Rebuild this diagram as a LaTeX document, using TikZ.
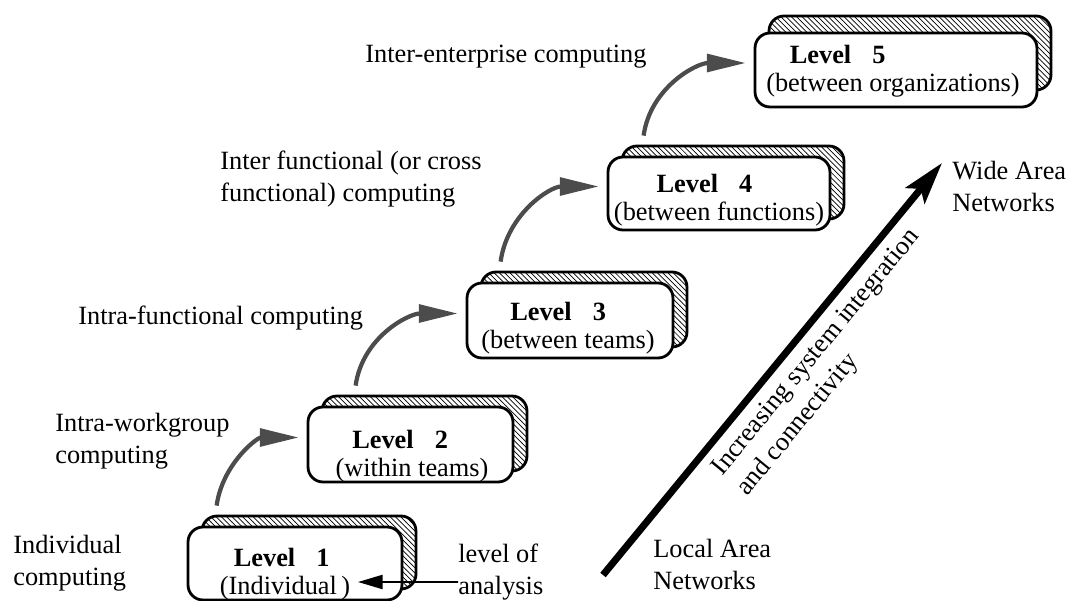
\documentclass[tikz,border=0pt]{standalone}
\usepackage{fontspec}
\setmainfont{Liberation Serif}
\usetikzlibrary{arrows.meta,shadows,patterns}

\tikzset{
    levelbox/.style={draw, line width=1.6pt, rounded corners=0.3cm, fill=white,
        general shadow={shadow xshift=0.28cm, shadow yshift=#1, draw,
            line width=1.6pt, pattern=north west lines, pattern color=black}},
    levelbox/.default=0.22cm,
    lvltxt/.style={align=center, font=\fontsize{15}{16}\selectfont},
    lbl/.style={align=left, anchor=west, inner sep=0pt},
    climb/.style={draw=black!70, line width=2.4pt,
        -{Triangle[length=22pt,width=10pt]}},
}
\newcommand{\lvl}[2]{\textbf{Level\hspace{.8em}#1}\hspace*{#2}}

\begin{document}
\begin{tikzpicture}[x=0.02cm, y=-0.02cm, font=\fontsize{15}{18.2}\selectfont]
    \useasboundingbox (0,0) rectangle (1072,601);

    % Levels
    \node[levelbox, minimum width=4.28cm, minimum height=1.46cm] (l1) at (295,563.5) {};
    \node[levelbox, minimum width=4.1cm, minimum height=1.5cm] (l2) at (410.5,444.5) {};
    \node[levelbox, minimum width=4.12cm, minimum height=1.5cm] (l3) at (570,320.5) {};
    \node[levelbox, minimum width=4.44cm, minimum height=1.46cm] (l4) at (719,193.5) {};
    \node[levelbox=0.34cm, minimum width=5.64cm, minimum height=1.48cm] (l5) at (896,70) {};

    \node[lvltxt] (t1) at (285,574) {\lvl{1}{.25em}\\(Individual\,)};
    \node[lvltxt] (t2) at (412,456) {\lvl{2}{.9em}\\(within teams)};
    \node[lvltxt] (t3) at (568,328) {\lvl{3}{.75em}\\(between teams)};
    \node[lvltxt] (t4) at (719,200) {\lvl{4}{1.1em}\\(between functions)};
    \node[lvltxt] (t5) at (893,71) {\lvl{5}{4.2em}\\(between organizations)};

    % Steps between levels
    \foreach \a/\b/\s in {l1/l2/0.6, l2/l3/0.98, l3/l4/0.7, l4/l5/0.74}
        \draw[climb] ([xshift=\s cm, yshift=0.4cm]\a.north west)
            to[out=82, in=180] ([xshift=-0.16cm, yshift=0.14cm]\b.west);

    % Kinds of computing
    \node[lbl] (indiv) at (13,563) {Individual\\computing};
    \node[lbl] (intrawg) at (55,441) {Intra-workgroup\\computing};
    \node[lbl] (intrafn) at (78,318) {Intra-functional computing};
    \node[lbl] (interfn) at (220,179) {Inter functional (or cross\\functional) computing};
    \node[lbl] (interent) at (365,57) {Inter-enterprise computing};

    % Level of analysis
    \node[lbl] (loa) at (458,572) {level of\\analysis};
    \coordinate (aim) at (358,582);
    \draw[line width=1.1pt, -{Triangle[length=14pt,width=8pt]}]
        ([yshift=-0.2cm]loa.west) -- (aim);

    % Networks
    \coordinate (lan) at (603,575);
    \coordinate (wan) at (942,163);
    \draw[line width=4pt, -{Stealth[length=24pt,width=14pt,inset=5pt]}] (lan) -- (wan);
    \node[lbl] (lanlbl) at (653,564) {Local Area\\Networks};
    \node[lbl] (wanlbl) at (952,186) {Wide Area\\Networks};
    \node[align=left, rotate=50.5, inner sep=0pt] (trend) at (829,363)
        {Increasing system integration\\and connectivity};
\end{tikzpicture}
\end{document}
